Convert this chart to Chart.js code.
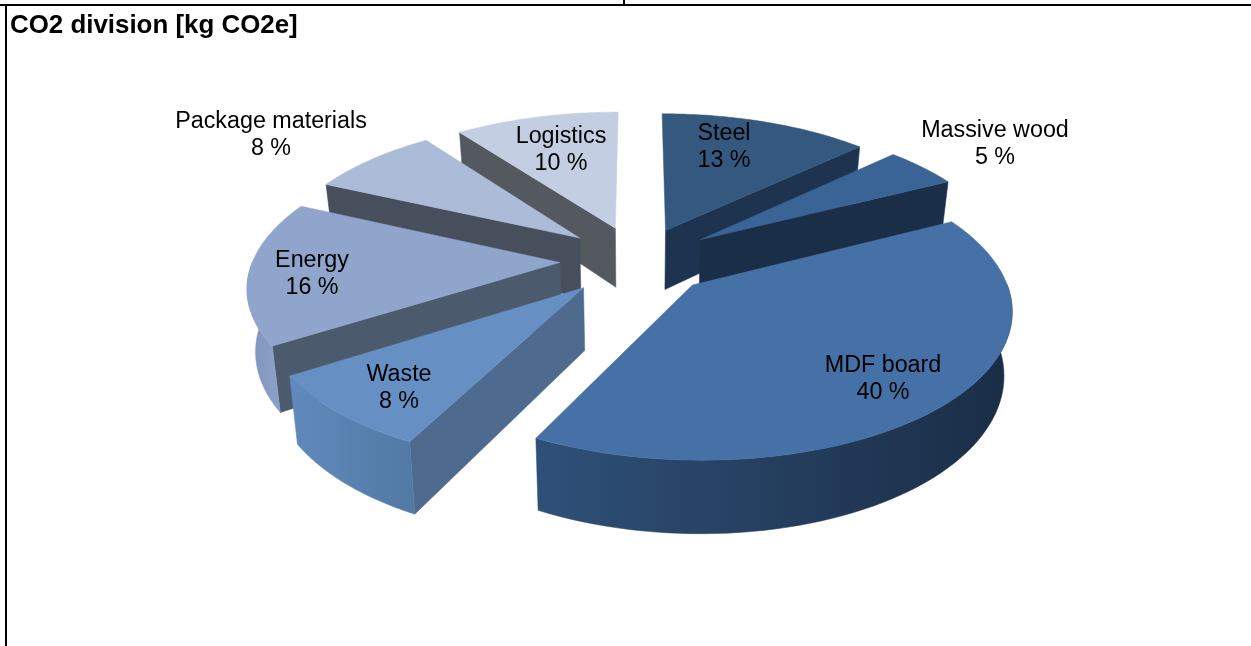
<!DOCTYPE html>
<html>
<head>
<meta charset="utf-8">
<title>CO2 division</title>
<script src="https://cdn.jsdelivr.net/npm/chart.js@4/dist/chart.umd.min.js"></script>
<style>
  html, body { margin: 0; padding: 0; background: #fff; overflow: hidden; }
  #wrap { position: relative; width: 1251px; height: 646px; }
  canvas { position: absolute; left: 0; top: 0; }
  .rule { position: absolute; background: #000; }
</style>
</head>
<body>
<div id="wrap">
  <canvas id="pie" width="1251" height="646"></canvas>
  <div class="rule" style="left:0;top:4px;width:1251px;height:2px"></div>
  <div class="rule" style="left:5px;top:4px;width:2px;height:642px"></div>
  <div class="rule" style="left:623px;top:0;width:2px;height:5px"></div>
</div>
<script>
// values: the labels show whole percents, the slice
// angles give the decimals
const categories = ['Steel', 'Massive wood', 'MDF board', 'Waste', 'Energy', 'Package materials', 'Logistics'];
const shares = [12.9, 4.6, 40, 8.4, 16, 8, 10.1];

// how far each slice is pulled out of the pie
const explode = [72, 78, 75, 79, 78, 77, 75];

// colours per slice: top face, cut face, outer wall left, outer wall right
const topColors = ['#35587f', '#3a6396', '#4571a7', '#6690c3', '#8fa5cc', '#abbbd8', '#c3cee3'];
const cutColors = ['#1d3350', '#1b2e48', '#1b2e48', '#4e6a8f', '#4c5a6e', '#474f5c', '#54585f'];
const wallLeft = ['#1d3350', '#1b2e48', '#2f5078', '#6189bc', '#7c92b9', '#7c92b9', '#54585f'];
const wallRight = ['#1d3350', '#1b2e48', '#1a2d46', '#527aa5', '#8a9fc6', '#7c92b9', '#54585f'];

// where each label sits (centre of its two lines)
const labelPos = [[724, 147], [995, 144], [883, 379], [399, 388], [312, 274], [271, 135], [561, 150]];

// camera for the tilted plane
const cam = { x: 638, y: 260, horizon: -713, dist: 2110, depth: 61, shrink: 0.022 };

function project(px, py, z) {
  const w = 1 + py / cam.dist;
  return [
    cam.x + px / w * (1 - cam.shrink * z),
    cam.horizon + (cam.y - cam.horizon) / w + z * cam.depth / w
  ];
}

function fillPoly(ctx, pts, fill) {
  ctx.beginPath();
  pts.forEach((p, i) => i ? ctx.lineTo(p[0], p[1]) : ctx.moveTo(p[0], p[1]));
  ctx.closePath();
  ctx.fillStyle = fill;
  ctx.fill();
  ctx.strokeStyle = fill;
  ctx.lineWidth = 0.5;
  ctx.stroke();
}

function drawSlice(ctx, arc, i) {
  const mid = (arc.startAngle + arc.endAngle) / 2;
  const off = arc.options.offset;
  const ox = Math.cos(mid) * off;
  const oy = -Math.sin(mid) * off;
  const r = arc.outerRadius;
  const rim = (a, z) => project(ox + r * Math.cos(a), oy - r * Math.sin(a), z);
  const apex = z => project(ox, oy, z);

  // cut faces, only those turned to the viewer
  if (Math.sin(arc.startAngle + Math.PI / 2) < 0) {
    fillPoly(ctx, [apex(0), rim(arc.startAngle, 0), rim(arc.startAngle, 1), apex(1)], cutColors[i]);
  }
  if (Math.sin(arc.endAngle + Math.PI / 2) > 0) {
    fillPoly(ctx, [apex(0), rim(arc.endAngle, 0), rim(arc.endAngle, 1), apex(1)], cutColors[i]);
  }

  // outer wall, front half only
  const a0 = Math.max(arc.startAngle, 0);
  const a1 = Math.min(arc.endAngle, Math.PI);
  if (a1 > a0) {
    const upper = [];
    const lower = [];
    for (let k = 0; k <= 60; k++) {
      const a = a0 + (a1 - a0) * k / 60;
      upper.push(rim(a, 0));
      lower.unshift(rim(a, 1));
    }
    const xs = upper.map(p => p[0]);
    const g = ctx.createLinearGradient(Math.min(...xs), 0, Math.max(...xs), 0);
    g.addColorStop(0, wallLeft[i]);
    g.addColorStop(1, wallRight[i]);
    fillPoly(ctx, upper.concat(lower), g);
  }

  // top face
  const face = [apex(0)];
  for (let k = 0; k <= 60; k++) {
    face.push(rim(arc.startAngle + (arc.endAngle - arc.startAngle) * k / 60, 0));
  }
  fillPoly(ctx, face, arc.options.backgroundColor);
}

const tilted3d = {
  id: 'tilted3d',
  beforeDatasetsDraw(chart) {
    const ctx = chart.ctx;
    const arcs = chart.getDatasetMeta(0).data;
    // far slices first
    const order = arcs.map((arc, i) => i).sort((a, b) => {
      const ya = -Math.sin((arcs[a].startAngle + arcs[a].endAngle) / 2);
      const yb = -Math.sin((arcs[b].startAngle + arcs[b].endAngle) / 2);
      return yb - ya;
    });
    ctx.save();
    order.forEach(i => drawSlice(ctx, arcs[i], i));
    ctx.fillStyle = '#000';
    ctx.font = '23.3px "Liberation Sans", Arial, sans-serif';
    ctx.textAlign = 'center';
    ctx.textBaseline = 'middle';
    categories.forEach((name, i) => {
      ctx.fillText(name, labelPos[i][0], labelPos[i][1] - 13.5);
      ctx.fillText(Math.round(shares[i]) + ' %', labelPos[i][0], labelPos[i][1] + 13.5);
    });
    ctx.restore();
    return false;
  }
};

function init() {
  new Chart(document.getElementById('pie'), {
    type: 'pie',
    data: {
      labels: categories,
      datasets: [{
        data: shares,
        backgroundColor: topColors,
        borderWidth: 0,
        offset: explode,
        hoverOffset: 0
      }]
    },
    options: {
      responsive: false,
      animation: false,
      radius: 307,
      layout: { padding: { left: 10, top: 8 } },
      plugins: {
        legend: { display: false },
        tooltip: { enabled: false },
        title: {
          display: true,
          text: 'CO2 division [kg CO2e]',
          align: 'start',
          color: '#000',
          font: { family: '"Liberation Sans", Arial, sans-serif', size: 25.9, weight: 'bold' },
          padding: { top: 2, bottom: 4 }
        }
      }
    },
    plugins: [tilted3d]
  });
}

init();
</script>
</body>
</html>
